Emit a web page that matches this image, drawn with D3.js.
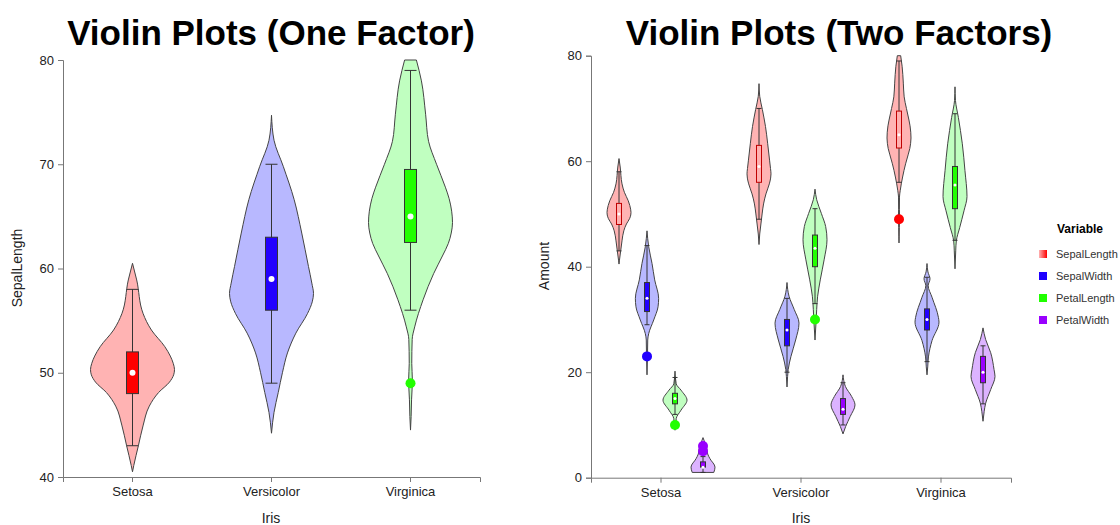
<!DOCTYPE html>
<html lang="en">
<head>
  <meta charset="UTF-8">
  <script src="https://cdn.jsdelivr.net/npm/d3@7"></script>
  <title>Violin Plots</title>
  <style>
    body { margin: 0; background: #fff; }
    text { font-family: "Liberation Sans", Arial, sans-serif; }
    .axis path, .axis line { stroke: #777; }
    .axis text { font-size: 13px; fill: #222; }
  </style>
</head>
<body>
<svg id="chart" width="1120" height="525"></svg>
<script>
// categories
const species = ["Setosa", "Versicolor", "Virginica"];
const variables = ["SepalLength", "SepalWidth", "PetalLength", "PetalWidth"];

// box stats per species: [lowWhisker, q1, median, q3, highWhisker]
const sepalLengthBox = [[43, 48, 50, 52, 58], [49, 56, 59, 63, 70], [56, 62.5, 65, 69.5, 79]];
const sepalWidthBox  = [[29, 31.5, 34, 37, 44], [20, 25, 28, 30, 34], [22, 28, 30, 32, 38]];
const petalLengthBox = [[12, 14, 15, 16, 19], [33, 40, 43.5, 46, 51], [45, 51, 55.5, 59, 69]];
const petalWidthBox  = [[1, 2, 2, 3, 4], [10, 12, 13, 15, 18], [14, 18, 20, 23, 25]];

// outliers per species
const sepalLengthOut = [[], [], [49]];
const sepalWidthOut  = [[23], [], []];
const petalLengthOut = [[10], [30], []];
const petalWidthOut  = [[5, 6], [], []];

// violin outlines: [value, relative half width]
const sepalLengthShape = [
  [[40.5, 0], [41.1, 0.03], [43, 0.14], [44.9, 0.25], [46.8, 0.4], [48.1, 0.62], [49.1, 0.88], [49.8, 0.98], [50.3, 1], [50.9, 0.97], [51.6, 0.9], [52.5, 0.77], [54.1, 0.45], [55.7, 0.25], [58.9, 0.1], [60.5, 0]],
  [[44.2, 0], [46.2, 0.06], [48.1, 0.16], [50, 0.26], [51.9, 0.38], [53.8, 0.58], [55.7, 0.86], [56.8, 0.97], [57.6, 1], [58.6, 0.96], [60.2, 0.88], [63.4, 0.72], [66.6, 0.54], [69.8, 0.28], [72.3, 0.06], [74.7, 0]],
  [[44.5, 0], [45.8, 0.015], [47.4, 0.025], [49.3, 0.045], [50.9, 0.03], [53.2, 0.04], [54.4, 0.1], [57, 0.3], [59.5, 0.55], [61.2, 0.76], [62.4, 0.9], [63.4, 0.97], [64.4, 1], [65.5, 0.98], [66.7, 0.92], [67.8, 0.83], [70, 0.62], [72.2, 0.43], [74.8, 0.36], [78, 0.26], [80, 0.14]]
];
const sepalWidthShape = [
  [[19.5, 0], [23, 0.04], [26.1, 0.06], [27.3, 0.14], [29.9, 0.56], [32.4, 0.92], [34, 0.97], [37.5, 0.64], [40.6, 0.42], [43.8, 0.14], [46.8, 0]],
  [[17.2, 0], [19.2, 0.05], [20.5, 0.1], [23, 0.33], [26.1, 0.72], [29.3, 1], [31.9, 0.6], [34.4, 0.17], [37, 0]],
  [[19.5, 0], [21, 0.06], [22.9, 0.12], [26, 0.42], [29.5, 1], [30.4, 0.95], [34.2, 0.42], [36.4, 0.1], [37.7, 0.25], [39, 0.08], [40.6, 0]]
];
const petalLengthShape = [
  [[9, 0], [9.6, 0.05], [11.2, 0.1], [12.8, 0.5], [14.7, 1], [16.6, 0.5], [17.8, 0.1], [20.2, 0]],
  [[26.1, 0], [30, 0.1], [31.9, 0.14], [34.4, 0.22], [37.5, 0.44], [41.3, 0.76], [45.1, 1], [47.6, 0.89], [50.1, 0.53], [52.7, 0.14], [54.7, 0]],
  [[39.6, 0], [43, 0.06], [44.9, 0.11], [47.4, 0.39], [50.6, 0.75], [53.3, 1], [58.2, 0.83], [63.3, 0.61], [68.3, 0.28], [71.5, 0.04], [74.1, 0]]
];
const petalWidthShape = [
  [[1, 0.9], [2, 1], [3.6, 0.58], [4.5, 0.39], [5.8, 0.3], [7, 0.1], [7.6, 0]],
  [[8.3, 0], [9.7, 0.22], [11.6, 0.6], [13.8, 1], [15.4, 0.72], [17.3, 0.2], [19.5, 0]],
  [[10.7, 0], [12.6, 0.1], [14.1, 0.22], [16.7, 0.64], [19.2, 1], [20.5, 0.92], [23.7, 0.64], [26.2, 0.22], [28.4, 0]]
];

// colours
const violinFill = ["#ffb3b3", "#b8b8ff", "#c0ffc0", "#dcb3ff"];
const boxFill    = ["#ff0000", "#2200ff", "#22ff00", "#9900ff"];
const legendFill = ["#ff4d4d", "#1f00ff", "#20ff00", "#9900ff"];

const boxes    = [sepalLengthBox, sepalWidthBox, petalLengthBox, petalWidthBox];
const outliers = [sepalLengthOut, sepalWidthOut, petalLengthOut, petalWidthOut];
const shapes   = [sepalLengthShape, sepalWidthShape, petalLengthShape, petalWidthShape];

let svg = d3.select("#chart");

// draws one violin with its box, whiskers, median and outliers
function drawViolin(g, cx, y, shape, box, outs, hw, boxW, vi, dotR, medR, lightBox) {
  let area = d3.area()
    .y(d => y(d[0]))
    .x0(d => cx - d[1] * hw)
    .x1(d => cx + d[1] * hw)
    .curve(d3.curveMonotoneY);
  g.append("path")
    .attr("d", area(shape))
    .attr("fill", violinFill[vi])
    .attr("stroke", "#444")
    .attr("stroke-width", 1);
  // whisker
  g.append("line")
    .attr("x1", cx).attr("x2", cx)
    .attr("y1", y(box[0])).attr("y2", y(box[4]))
    .attr("stroke", "#333").attr("stroke-width", 1);
  [box[0], box[4]].forEach(v => {
    g.append("line")
      .attr("x1", cx - boxW / 2).attr("x2", cx + boxW / 2)
      .attr("y1", y(v)).attr("y2", y(v))
      .attr("stroke", "#333").attr("stroke-width", 1);
  });
  // box
  g.append("rect")
    .attr("x", cx - boxW / 2)
    .attr("y", y(box[3]))
    .attr("width", boxW)
    .attr("height", y(box[1]) - y(box[3]))
    .attr("fill", lightBox ? "#ffb0b0" : boxFill[vi])
    .attr("stroke", lightBox ? "#c00000" : "#333")
    .attr("stroke-width", 1);
  // median
  g.append("circle")
    .attr("cx", cx).attr("cy", y(box[2]))
    .attr("r", medR).attr("fill", "#fff");
  // outliers
  outs.forEach(v => {
    g.append("circle")
      .attr("cx", cx).attr("cy", y(v))
      .attr("r", dotR).attr("fill", boxFill[vi]);
  });
}

/* LEFT CHART */
let xL = d3.scaleBand().domain(species).range([63, 480]);
let yL = d3.scaleLinear().domain([40, 80]).range([477, 60]);

svg.append("g").attr("class", "axis")
  .attr("transform", "translate(0,477)")
  .call(d3.axisBottom(xL).tickSizeOuter(0).tickSize(5).tickPadding(5));
svg.append("g").attr("class", "axis")
  .attr("transform", "translate(63,0)")
  .call(d3.axisLeft(yL).tickValues([40, 50, 60, 70, 80]).tickSizeOuter(0).tickSize(5).tickPadding(4));

// one factor chart: each species gets its own colour
let leftG = svg.append("g");
species.forEach((s, i) => {
  let cx = xL(s) + xL.bandwidth() / 2;
  drawViolin(leftG, cx, yL, sepalLengthShape[i], sepalLengthBox[i], sepalLengthOut[i], 42, 12, i, 5, 3, false);
});

svg.append("text").text("Violin Plots (One Factor)")
  .attr("x", 271).attr("y", 45).attr("text-anchor", "middle")
  .style("font-size", "35px").style("font-weight", "bold");
svg.append("text").text("SepalLength")
  .attr("transform", "translate(22,268) rotate(-90)")
  .attr("text-anchor", "middle").style("font-size", "14px").attr("fill", "#222");
svg.append("text").text("Iris")
  .attr("x", 271).attr("y", 523).attr("text-anchor", "middle")
  .style("font-size", "14px").attr("fill", "#222");

/* RIGHT CHART */
let xR = d3.scaleBand().domain(species).range([591, 1011]);
let subX = d3.scaleBand().domain(variables).range([-56, 56]);
let yR = d3.scaleLinear().domain([0, 80]).range([477.7, 55.7]);

svg.append("g").attr("class", "axis")
  .attr("transform", "translate(0,477.7)")
  .call(d3.axisBottom(xR).tickSizeOuter(0).tickSize(5).tickPadding(5));
svg.append("g").attr("class", "axis")
  .attr("transform", "translate(591,0)")
  .call(d3.axisLeft(yR).tickValues([0, 20, 40, 60, 80]).tickSizeOuter(0).tickSize(5).tickPadding(4));

let rightG = svg.append("g");
species.forEach((s, i) => {
  variables.forEach((v, j) => {
    let cx = xR(s) + xR.bandwidth() / 2 + subX(v) + subX.bandwidth() / 2;
    drawViolin(rightG, cx, yR, shapes[j][i], boxes[j][i], outliers[j][i], 12, 5, j, 5, 1.5, j == 0);
  });
});

svg.append("text").text("Violin Plots (Two Factors)")
  .attr("x", 839).attr("y", 45).attr("text-anchor", "middle")
  .style("font-size", "35px").style("font-weight", "bold");
svg.append("text").text("Amount")
  .attr("transform", "translate(549,266) rotate(-90)")
  .attr("text-anchor", "middle").style("font-size", "14px").attr("fill", "#222");
svg.append("text").text("Iris")
  .attr("x", 801).attr("y", 523).attr("text-anchor", "middle")
  .style("font-size", "14px").attr("fill", "#222");

/* LEGEND */
let legend = svg.append("g").attr("transform", "translate(1039,0)");
let grad = svg.append("defs").append("linearGradient").attr("id", "slGrad");
grad.append("stop").attr("offset", "0%").attr("stop-color", "#ffb3b3");
grad.append("stop").attr("offset", "100%").attr("stop-color", "#ff0000");
legend.append("text").text("Variable")
  .attr("x", 18).attr("y", 233)
  .style("font-size", "12px").style("font-weight", "bold");
variables.forEach((v, j) => {
  let cy = 254 + j * 22;
  legend.append("rect")
    .attr("x", 0).attr("y", cy - 4).attr("width", 8).attr("height", 8)
    .attr("fill", j == 0 ? "url(#slGrad)" : legendFill[j]);
  legend.append("text").text(v)
    .attr("x", 17).attr("y", cy + 4)
    .style("font-size", "11px").attr("fill", "#333");
});
</script>
</body>
</html>
